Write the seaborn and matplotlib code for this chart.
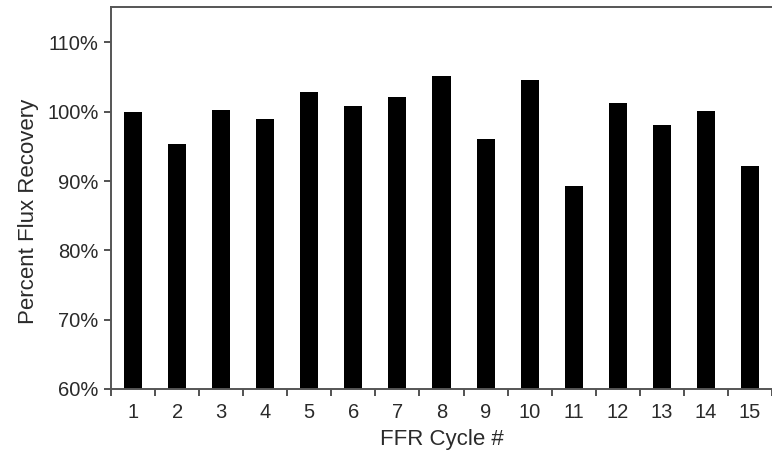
import matplotlib
matplotlib.use("Agg")
import matplotlib.pyplot as plt
import seaborn as sns
import pandas as pd
import numpy as np

cycles = [str(i) for i in range(1, 16)]
recovery = [100.0, 95.4, 100.3, 99.0, 102.9, 100.8, 102.1, 105.1, 96.1, 104.5, 89.3, 101.2, 98.1, 100.1, 92.2]
yticks = [60, 70, 80, 90, 100, 110]
ytick_labels = ["60%", "70%", "80%", "90%", "100%", "110%"]

sns.set_style("white")
plt.rcParams['font.family'] = ['Liberation Sans', 'DejaVu Sans']

df = pd.DataFrame({"cycle": cycles, "recovery": recovery})

fig = plt.figure(figsize=(7.72, 4.51), dpi=100)
ax = fig.add_axes([0.1438, 0.1375, 0.8562, 0.847])
sns.barplot(data=df, x="cycle", y="recovery", color="black", width=0.41,
            saturation=1, ax=ax, edgecolor="black", linewidth=0)

ax.set_ylim(60, 115.1)
ax.set_xlim(-0.5, 14.27)
ax.set_yticks(yticks)
ax.set_yticklabels(ytick_labels)
ax.set_xticks(range(len(cycles)))
ax.set_xticklabels(cycles)
ax.set_xticks(np.arange(-0.5, len(cycles), 1.0), minor=True)

txtc = "#2a2a2a"
ax.tick_params(axis="x", which="major", length=0, labelsize=14.5, colors=txtc, pad=10)
ax.tick_params(axis="x", which="minor", length=5, width=1.3, color="#444444", direction="out", bottom=True)
ax.tick_params(axis="y", which="major", length=5, width=1.3, color="#444444", direction="out", left=True,
               labelsize=14.5, labelcolor=txtc, pad=4)

ax.set_xlabel("FFR Cycle #", fontsize=16, color=txtc, labelpad=5)
ax.set_ylabel("Percent Flux Recovery", fontsize=16, color=txtc, labelpad=6)
ax.yaxis.label.set_y(0.465)

for s in ["left", "bottom", "top"]:
    ax.spines[s].set_visible(True)
    ax.spines[s].set_color("#555555")
    ax.spines[s].set_linewidth(1.4)
ax.spines["right"].set_visible(False)

fig.savefig("out.png", dpi=100)
